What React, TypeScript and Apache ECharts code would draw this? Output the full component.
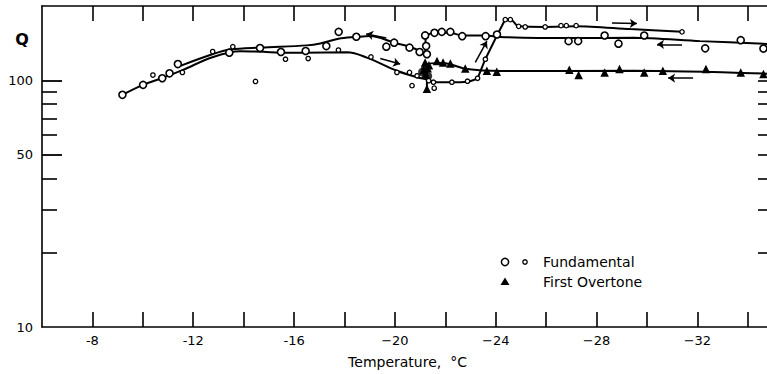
import React, { useEffect, useRef } from "react";
import * as echarts from "echarts";

// ---- axis ticks / labels ----
const TEMP_TICKS = [-34, -32, -30, -28, -26, -24, -22, -20, -18, -16, -14, -12, -10, -8];
const TEMP_LABEL_VALUES = [-32, -28, -24, -20, -16, -12, -8];
const TEMP_LABEL_TEXTS = ["−32", "−28", "−24", "−20", "-16", "-12", "-8"];
const Q_MINOR_TICKS = [20, 30, 40, 60, 70, 80, 90];
const Q_MAJOR_TICKS = [50, 100];
const Q_LABELS = [10, 50, 100];

// ---- fundamental, large open circles [T, Q] ----
const fundLarge: number[][] = [
  [-9.19, 87.3], [-10.01, 95.8], [-10.77, 101.9], [-11.06, 106.7], [-11.39, 116.3],
  [-13.43, 129.4], [-14.65, 135.1], [-15.48, 130.2], [-16.46, 131.4], [-17.28, 137.6],
  [-17.77, 157.1], [-18.47, 150.1], [-19.66, 136.8], [-19.97, 142.0], [-20.58, 135.6],
  [-20.98, 130.2], [-21.24, 137.6], [-21.27, 127.5], [-21.2, 152.0], [-21.57, 155.7],
  [-21.86, 157.1], [-22.2, 157.1], [-22.67, 150.9], [-23.6, 150.9], [-24.05, 153.3],
  [-26.89, 144.1], [-27.27, 144.1], [-28.32, 151.9], [-28.87, 140.7], [-29.89, 151.9],
  [-32.31, 134.7], [-33.72, 145.4], [-34.62, 134.4],
];

// ---- fundamental, small open circles [T, Q] ----
const fundSmall: number[][] = [
  [-10.4, 105.0], [-11.57, 107.6], [-12.77, 130.7], [-13.57, 136.8], [-14.47, 98.9],
  [-15.66, 121.7], [-16.56, 122.5], [-17.76, 132.6], [-19.05, 124.3], [-20.08, 107.6],
  [-20.58, 107.6], [-20.88, 104.3], [-21.34, 99.6], [-21.53, 98.2], [-20.68, 95.1],
  [-21.56, 92.9], [-22.26, 98.2], [-22.88, 99.1], [-23.28, 101.9], [-23.59, 121.7],
  [-24.38, 176.1], [-24.58, 176.1], [-24.91, 165.4], [-25.17, 164.5], [-25.96, 164.5],
  [-26.59, 166.5], [-26.8, 166.5], [-27.19, 166.5], [-31.39, 157.1],
];

// ---- first overtone, filled triangles [T, Q] ----
const overtone: number[][] = [
  [-21.2, 118], [-21.3, 112], [-21.22, 106], [-21.35, 115], [-21.15, 110], [-21.27, 92.3],
  [-21.67, 119.8], [-21.91, 118.1], [-22.2, 117.0], [-22.79, 111.7], [-23.65, 109.3],
  [-24.04, 108.2], [-26.92, 110.3], [-27.29, 105.0], [-28.32, 107.6], [-28.91, 111.0],
  [-29.89, 107.6], [-30.63, 109.3], [-32.34, 111.0], [-33.72, 107.6], [-34.62, 106.0],
];
const overtoneBlob: number[][] = [[-21.22, 112], [-21.3, 104], [-21.1, 108]];

// ---- drawn curves [T, Q] ----
const coolingLow: number[][] = [
  [-9.19, 87.3], [-10.01, 95.8], [-10.77, 102.1], [-11.57, 109.9], [-12.76, 124.0],
  [-13.87, 131.0], [-14.78, 130.4], [-15.45, 129.4], [-16.37, 129.4], [-18.1, 129.8],
  [-18.89, 123.6], [-20.08, 109.3], [-20.88, 102.8], [-21.27, 100.7], [-21.67, 98.2],
  [-22.26, 98.2], [-22.86, 98.7], [-23.28, 101.7],
];
const coolingJump: number[][] = [
  [-23.28, 101.7], [-23.59, 122.0], [-24.05, 151.9], [-24.38, 176.8],
];
const coolingHigh: number[][] = [
  [-24.38, 176.8], [-24.58, 176.8], [-24.91, 165.4], [-25.96, 164.5], [-27.19, 165.7],
  [-29.34, 161.2], [-31.39, 157.1],
];
const warmingRight: number[][] = [
  [-34.77, 140.4], [-32.11, 144.1], [-29.46, 148.7], [-26.83, 148.2], [-24.18, 149.8],
  [-23.59, 151.9], [-22.66, 151.9], [-22.2, 155.7], [-21.53, 155.7], [-21.22, 150.5],
];
const warmingDrop: number[][] = [[-21.22, 150.5], [-21.2, 125.1]];
const warmingLeft: number[][] = [
  [-21.2, 125.1], [-20.98, 131.4], [-20.58, 136.8], [-19.97, 142.0], [-19.02, 151.2],
  [-18.47, 149.8], [-17.76, 147.3], [-17.04, 141.0], [-16.51, 138.5], [-14.66, 135.7],
  [-13.47, 133.2], [-12.76, 127.5], [-11.49, 114.4],
];
const overtoneLine: number[][] = [
  [-21.27, 92.3], [-21.3, 116.3], [-21.9, 117.5], [-22.86, 111.0], [-24.2, 109.0],
  [-29.5, 109.3], [-34.8, 106.3],
];

// ---- direction arrows [[from], [to]] ----
const arrows: number[][][] = [
  [[-19.66, 148.5], [-18.86, 154.0]],
  [[-19.42, 122.5], [-20.21, 116.3]],
  [[-23.19, 118.1], [-23.65, 144.1]],
  [[-28.61, 170.5], [-29.6, 170.0]],
  [[-31.39, 139.8], [-30.4, 139.8]],
  [[-31.83, 102.1], [-30.84, 102.1]],
];

const FONT = "DejaVu Sans";

export default function App() {
  const ref = useRef<HTMLDivElement>(null);
  useEffect(() => {
    if (!ref.current) return;
    const chart = echarts.init(ref.current, undefined, { renderer: "svg" });
    const lineStyle = { color: "#000", width: 2 };
    const curve = (data: number[][], smooth: number | boolean) => ({
      type: "line",
      data,
      smooth,
      symbol: "none",
      lineStyle,
      z: 2,
      silent: true,
    });
    const xBase = {
      type: "value",
      min: -35,
      max: -6,
      inverse: true,
      splitLine: { show: false },
      axisLine: { lineStyle: { color: "#000", width: 1.6 }, onZero: false },
      axisTick: {
        inside: true,
        length: 15,
        customValues: TEMP_TICKS,
        lineStyle: { color: "#000", width: 1.6 },
      },
    };
    chart.setOption({
      animation: false,
      backgroundColor: "#fff",
      grid: { left: 42, top: 6, width: 731, height: 325, containLabel: false },
      xAxis: [
        {
          ...xBase,
          position: "bottom",
          name: "Temperature,  °C",
          nameLocation: "middle",
          nameGap: 28,
          nameTextStyle: { color: "#000", fontSize: 14, fontFamily: FONT },
          axisLabel: {
            customValues: TEMP_LABEL_VALUES,
            margin: 7,
            color: "#000",
            fontSize: 13,
            fontFamily: FONT,
            formatter: (v: number) => {
              const i = TEMP_LABEL_VALUES.indexOf(v);
              return i >= 0 ? TEMP_LABEL_TEXTS[i] : "";
            },
          },
        },
        { ...xBase, position: "top", axisLabel: { show: false } },
      ],
      yAxis: [
        {
          type: "log",
          logBase: 10,
          min: 10,
          max: 200,
          position: "left",
          splitLine: { show: false },
          axisLine: { lineStyle: { color: "#000", width: 1.6 } },
          axisTick: {
            inside: true,
            length: 15,
            customValues: Q_MINOR_TICKS,
            lineStyle: { color: "#000", width: 1.6 },
          },
          axisLabel: {
            customValues: Q_LABELS,
            margin: 9,
            color: "#000",
            fontSize: 13,
            fontFamily: FONT,
          },
        },
        {
          type: "log",
          logBase: 10,
          min: 10,
          max: 200,
          position: "right",
          splitLine: { show: false },
          axisLine: { lineStyle: { color: "#000", width: 1.6 } },
          axisTick: {
            inside: true,
            length: 15,
            customValues: [...Q_MINOR_TICKS, ...Q_MAJOR_TICKS],
            lineStyle: { color: "#000", width: 1.6 },
          },
          axisLabel: { show: false },
        },
        {
          type: "log",
          logBase: 10,
          min: 10,
          max: 200,
          position: "left",
          splitLine: { show: false },
          axisLine: { show: false },
          axisTick: {
            inside: true,
            length: 20,
            customValues: Q_MAJOR_TICKS,
            lineStyle: { color: "#000", width: 1.8 },
          },
          axisLabel: { show: false },
        },
      ],
      series: [
        curve(coolingLow, 0.35),
        curve(coolingJump, false),
        curve(coolingHigh, 0.3),
        curve(warmingRight, 0.3),
        curve(warmingDrop, false),
        curve(warmingLeft, 0.35),
        curve(overtoneLine, 0.3),
        {
          type: "lines",
          coordinateSystem: "cartesian2d",
          xAxisIndex: 0,
          yAxisIndex: 0,
          symbol: ["none", "arrow"],
          symbolSize: 7,
          lineStyle: { color: "#000", width: 1.5, opacity: 1 },
          data: arrows.map((c) => ({ coords: c })),
          z: 3,
          silent: true,
        },
        {
          type: "scatter",
          data: overtoneBlob,
          symbol: "circle",
          symbolSize: 9,
          itemStyle: { color: "#000" },
          z: 4,
          silent: true,
        },
        {
          type: "scatter",
          data: overtone,
          symbol: "triangle",
          symbolSize: 8.5,
          itemStyle: { color: "#000", opacity: 1 },
          z: 5,
          silent: true,
        },
        {
          type: "scatter",
          data: fundLarge,
          symbol: "circle",
          symbolSize: 7,
          itemStyle: { color: "#fff", borderColor: "#000", borderWidth: 1.6, opacity: 1 },
          z: 6,
          silent: true,
        },
        {
          type: "scatter",
          data: fundSmall,
          symbol: "circle",
          symbolSize: 4.4,
          itemStyle: { color: "#fff", borderColor: "#000", borderWidth: 1.3, opacity: 1 },
          z: 6,
          silent: true,
        },
      ],
      graphic: [
        {
          type: "text",
          x: 22,
          y: 39,
          style: {
            text: "Q",
            font: `bold 16px ${FONT}`,
            fill: "#000",
            align: "center",
            verticalAlign: "middle",
          },
        },
        {
          type: "circle",
          shape: { cx: 505, cy: 262, r: 3.6 },
          style: { fill: "#fff", stroke: "#000", lineWidth: 1.5 },
        },
        {
          type: "circle",
          shape: { cx: 525, cy: 262, r: 2.2 },
          style: { fill: "#fff", stroke: "#000", lineWidth: 1.3 },
        },
        {
          type: "text",
          x: 543,
          y: 262,
          style: {
            text: "Fundamental",
            font: `14px ${FONT}`,
            fill: "#000",
            verticalAlign: "middle",
          },
        },
        {
          type: "polygon",
          shape: { points: [[505, 277.5], [500.5, 285], [509.5, 285]] },
          style: { fill: "#000" },
        },
        {
          type: "text",
          x: 543,
          y: 282,
          style: {
            text: "First Overtone",
            font: `14px ${FONT}`,
            fill: "#000",
            verticalAlign: "middle",
          },
        },
      ],
    });
    return () => chart.dispose();
  }, []);
  return (
    <div
      style={{
        position: "fixed",
        left: 0,
        top: 0,
        width: 767,
        height: 374,
        overflow: "hidden",
        background: "#fff",
      }}
    >
      <div ref={ref} style={{ width: 790, height: 374 }} />
    </div>
  );
}
